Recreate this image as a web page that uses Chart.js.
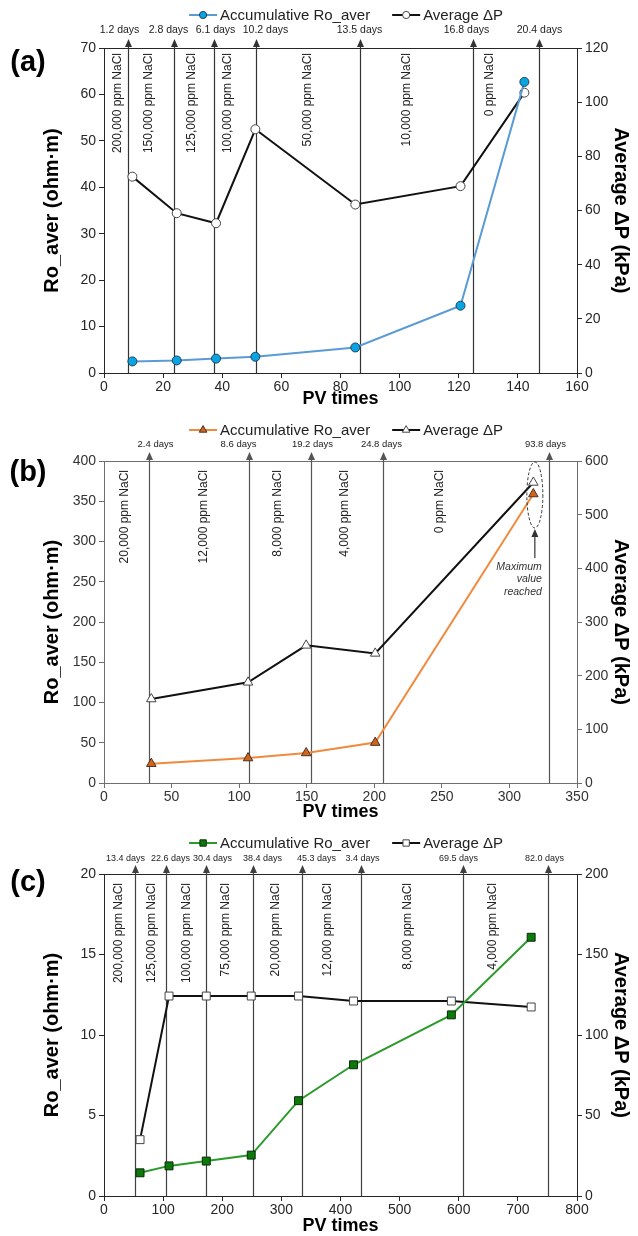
<!DOCTYPE html>
<html>
<head>
<meta charset="utf-8">
<script src="https://cdn.jsdelivr.net/npm/chart.js@4.4.0/dist/chart.umd.min.js"></script>
<style>
html, body { margin: 0; padding: 0; background: #fff; overflow: hidden; }
#wrap { position: relative; width: 638px; height: 1236px; }
canvas { position: absolute; left: 0; }
</style>
</head>
<body>
<div id="wrap">
  <canvas id="chartA" width="638" height="412" style="top:0px"></canvas>
  <canvas id="chartB" width="638" height="414" style="top:410px"></canvas>
  <canvas id="chartC" width="638" height="420" style="top:820px"></canvas>
</div>
<script>
// ---- panel (a) ----
const pvA = [9.6, 24.6, 37.9, 51.2, 85.0, 120.6, 142.2];
const roA = [2.5, 2.7, 3.1, 3.5, 5.5, 14.5, 62.7];
const dpA = [72.5, 59.0, 55.3, 90.0, 62.2, 69.0, 103.5];
const stepsA = [8, 23.8, 37.2, 51.5, 86.6, 124.8, 147.3];
const daysA = ['1.2 days', '2.8 days', '6.1 days', '10.2 days', '13.5 days', '16.8 days', '20.4 days'];
const naclA = ['200,000 ppm NaCl', '150,000 ppm NaCl', '125,000 ppm NaCl', '100,000 ppm NaCl', '50,000 ppm NaCl', '10,000 ppm NaCl', '0 ppm NaCl'];
const naclAtA = [4.6, 15, 29.5, 41.8, 69, 102.5, 130.5];

// ---- panel (b) ----
const pvB = [35.0, 106.6, 149.6, 200.7, 317.7];
const roB = [24.0, 31.0, 37.3, 50.2, 359.0];
const dpB = [156.5, 187.6, 256.5, 241.5, 560.0];
const stepsB = [33, 107.5, 153, 206.5, 329];
const daysB = ['2.4 days', '8.6 days', '19.2 days', '24.8 days', '93.8 days'];
const naclB = ['20,000 ppm NaCl', '12,000 ppm NaCl', '8,000 ppm NaCl', '4,000 ppm NaCl', '0 ppm NaCl'];
const naclAtB = [15.6, 74, 128.6, 178.2, 248.2];

// ---- panel (c) ----
const pvC = [61, 110, 173, 249, 329, 422, 587.5, 722.5];
const roC = [1.44, 1.87, 2.17, 2.54, 5.92, 8.15, 11.25, 16.07];
const dpC = [35.0, 124.2, 124.2, 124.2, 124.2, 121.1, 121.1, 117.4];
const stepsC = [52.6, 105.5, 173, 252.5, 335, 434, 608, 751];
const daysC = ['13.4 days', '22.6 days', '30.4 days', '38.4 days', '45.3 days', '3.4 days', '69.5 days', '82.0 days'];
const naclC = ['200,000 ppm NaCl', '125,000 ppm NaCl', '100,000 ppm NaCl', '75,000 ppm NaCl', '20,000 ppm NaCl', '12,000 ppm NaCl', '8,000 ppm NaCl', '4,000 ppm NaCl'];
const naclAtC = [24, 81, 140, 205, 290, 378, 513, 657];

const SANS = '"Liberation Sans", Arial, sans-serif';

function marker(ctx, style, x, y, r, fill, stroke) {
  ctx.beginPath();
  if (style === 'circle') {
    ctx.arc(x, y, r, 0, Math.PI * 2);
  } else if (style === 'triangle') {
    ctx.moveTo(x, y - r);
    ctx.lineTo(x + r * 0.866, y + r * 0.5);
    ctx.lineTo(x - r * 0.866, y + r * 0.5);
    ctx.closePath();
  } else {
    const s = r * Math.SQRT1_2;
    ctx.rect(x - s, y - s, 2 * s, 2 * s);
  }
  ctx.fillStyle = fill;
  ctx.fill();
  ctx.lineWidth = 1;
  ctx.strokeStyle = stroke;
  ctx.stroke();
}

function upArrow(ctx, px, tip) {
  ctx.beginPath();
  ctx.moveTo(px, tip);
  ctx.lineTo(px - 3.5, tip + 8);
  ctx.lineTo(px + 3.5, tip + 8);
  ctx.closePath();
  ctx.fill();
}

const decor = {
  id: 'decor',
  beforeDatasetsDraw(chart, args, o) {
    const { ctx, chartArea: a } = chart;
    const x = chart.scales.x;
    ctx.save();
    // top border of the plot
    ctx.strokeStyle = o.axisColor;
    ctx.lineWidth = 1;
    ctx.beginPath();
    ctx.moveTo(a.left, a.top + 0.5);
    ctx.lineTo(a.right, a.top + 0.5);
    ctx.stroke();

    // salinity step lines with arrows + day labels
    o.steps.forEach((v, i) => {
      const px = Math.round(x.getPixelForValue(v)) + 0.5;
      const tip = a.top - 9;
      ctx.strokeStyle = o.lineColor;
      ctx.fillStyle = o.lineColor;
      ctx.lineWidth = 1.2;
      ctx.beginPath();
      ctx.moveTo(px, a.bottom);
      ctx.lineTo(px, tip + 6);
      ctx.stroke();
      upArrow(ctx, px, tip);
      ctx.fillStyle = '#222';
      ctx.font = o.daysFont;
      ctx.textAlign = 'center';
      ctx.textBaseline = 'middle';
      ctx.fillText(o.days[i], px + o.dayShift[i], o.daysY);
    });

    // NaCl concentration labels (vertical)
    ctx.fillStyle = '#222';
    ctx.font = o.naclFont;
    o.nacl.forEach((t, i) => {
      const px = x.getPixelForValue(o.naclAt[i]);
      ctx.save();
      ctx.translate(px, a.top + o.naclGap);
      ctx.rotate(-Math.PI / 2);
      ctx.textAlign = 'right';
      ctx.textBaseline = 'middle';
      ctx.fillText(t, 0, 0);
      ctx.restore();
    });
    ctx.restore();
  },
  afterDraw(chart, args, o) {
    const { ctx } = chart;
    ctx.save();
    // legend
    ctx.font = o.legendFont;
    const items = chart.data.datasets.map(ds => ({
      text: ds.label, line: ds.borderColor, shape: ds.pointStyle,
      fill: ds.pointBackgroundColor, edge: ds.pointBorderColor, r: ds.pointRadius * 0.8
    }));
    const seg = 28, gap = 3, between = 22;
    let total = 0;
    items.forEach(it => { it.w = seg + gap + ctx.measureText(it.text).width; total += it.w; });
    total += between * (items.length - 1);
    let lx = o.legendX - total / 2;
    items.forEach(it => {
      ctx.strokeStyle = it.line;
      ctx.lineWidth = 2;
      ctx.beginPath();
      ctx.moveTo(lx, o.legendY);
      ctx.lineTo(lx + seg, o.legendY);
      ctx.stroke();
      marker(ctx, it.shape, lx + seg / 2, o.legendY, it.r, it.fill, it.edge);
      ctx.fillStyle = '#222';
      ctx.textAlign = 'left';
      ctx.textBaseline = 'middle';
      ctx.fillText(it.text, lx + seg + gap, o.legendY + 1);
      lx += it.w + between;
    });

    // panel letter
    ctx.font = 'bold 29px ' + SANS;
    ctx.fillStyle = '#000';
    ctx.textAlign = 'center';
    ctx.textBaseline = 'middle';
    ctx.fillText(o.letter, 28, 63);

    // "maximum value reached" note
    if (o.maxNote) {
      const meta = chart.getDatasetMeta(0);
      const p = meta.data[meta.data.length - 1];
      const cx = p.x + 1.5, cy = p.y + 1;
      ctx.strokeStyle = '#333';
      ctx.fillStyle = '#333';
      ctx.lineWidth = 1;
      ctx.setLineDash([3, 2]);
      ctx.beginPath();
      ctx.ellipse(cx, cy, 8, 33, 0, 0, Math.PI * 2);
      ctx.stroke();
      ctx.setLineDash([]);
      ctx.lineWidth = 1.2;
      ctx.beginPath();
      ctx.moveTo(cx, cy + 40);
      ctx.lineTo(cx, cy + 63);
      ctx.stroke();
      upArrow(ctx, cx, cy + 34);
      ctx.font = 'italic 10.5px ' + SANS;
      ctx.textAlign = 'right';
      ctx.textBaseline = 'middle';
      ['Maximum', 'value', 'reached'].forEach((t, i) => ctx.fillText(t, cx + 7, cy + 72 + i * 12.5));
    }
    ctx.restore();
  }
};

function makeChart(id, c) {
  const tickFont = { family: SANS, size: 14 };
  const titleFont = { family: SANS, size: 20, weight: 'bold' };
  const axis = (min, max, step, pos, title, pad, width) => ({
    type: 'linear', position: pos, min: min, max: max,
    ticks: { stepSize: step, font: tickFont, color: c.tickColor, padding: 3 },
    grid: { drawOnChartArea: false, tickLength: 5, color: c.axisColor },
    border: { color: c.axisColor, width: 1 },
    title: { display: true, text: title, font: titleFont, color: '#000', padding: { top: pad, bottom: 0 } },
    afterFit(s) { s.width = width; }
  });
  return new Chart(document.getElementById(id), {
    type: 'line',
    data: {
      datasets: [
        {
          label: 'Accumulative Ro_aver',
          data: c.pv.map((v, i) => ({ x: v, y: c.ro[i] })),
          yAxisID: 'y',
          borderColor: c.roLine, borderWidth: 2,
          pointStyle: c.shape, pointRadius: c.r,
          pointBackgroundColor: c.roFill, pointBorderColor: c.roEdge, pointBorderWidth: 1
        },
        {
          label: 'Average ΔP',
          data: c.pv.map((v, i) => ({ x: v, y: c.dp[i] })),
          yAxisID: 'y1',
          borderColor: '#111', borderWidth: 2,
          pointStyle: c.shape, pointRadius: c.r,
          pointBackgroundColor: '#fff', pointBorderColor: '#444', pointBorderWidth: 1
        }
      ]
    },
    options: {
      responsive: false,
      animation: false,
      devicePixelRatio: 1,
      layout: { padding: { top: c.top, left: 0, right: 0, bottom: 0 } },
      plugins: {
        legend: { display: false },
        tooltip: { enabled: false },
        decor: {
          steps: c.steps, days: c.days, dayShift: c.dayShift, nacl: c.nacl, naclAt: c.naclAt,
          axisColor: c.axisColor, lineColor: c.lineColor,
          daysY: c.daysY, daysFont: c.daysFont, naclGap: c.naclGap, naclFont: '12px ' + SANS,
          legendX: 346, legendY: c.legendY, legendFont: '15px ' + SANS,
          letter: c.letter, maxNote: !!c.maxNote
        }
      },
      scales: {
        x: {
          type: 'linear', min: 0, max: c.xMax,
          ticks: { stepSize: c.xStep, font: tickFont, color: c.tickColor, padding: 1, maxRotation: 0 },
          grid: { drawOnChartArea: false, tickLength: 5, color: c.axisColor },
          border: { color: c.axisColor, width: 1 },
          title: { display: true, text: 'PV times', font: { family: SANS, size: 18, weight: 'bold' }, color: '#000', padding: { top: 0, bottom: c.pvPad } },
          afterFit(s) { s.height = c.H - c.bottom; }
        },
        y: axis(0, c.yMax, c.yStep, 'left', 'Ro_aver (ohm·m)', 40, 104),
        y1: axis(0, c.y1Max, c.y1Step, 'right', 'Average ΔP (kPa)', 5, 61)
      }
    },
    plugins: [decor]
  });
}

makeChart('chartA', {
  pv: pvA, ro: roA, dp: dpA, steps: stepsA, days: daysA, nacl: naclA, naclAt: naclAtA,
  dayShift: [-9, -6, 1, 9, -1, -7, 0],
  H: 412, top: 48, bottom: 373, pvPad: 2,
  xMax: 160, xStep: 20, yMax: 70, yStep: 10, y1Max: 120, y1Step: 20,
  shape: 'circle', r: 4.5, roLine: '#5B9BD5', roFill: '#0AA5E0', roEdge: '#1F3F60',
  axisColor: '#262626', tickColor: '#262626', lineColor: '#333',
  daysY: 30, daysFont: '10.5px ' + SANS, naclGap: 5, legendY: 15, letter: '(a)'
});

makeChart('chartB', {
  pv: pvB, ro: roB, dp: dpB, steps: stepsB, days: daysB, nacl: naclB, naclAt: naclAtB,
  dayShift: [6, -11, 1, -2, -4],
  H: 414, top: 51, bottom: 373, pvPad: 1,
  xMax: 350, xStep: 50, yMax: 400, yStep: 50, y1Max: 600, y1Step: 100,
  shape: 'triangle', r: 5.5, roLine: '#F08A3E', roFill: '#D0661E', roEdge: '#4a3020',
  axisColor: '#6e6e6e', tickColor: '#333', lineColor: '#555',
  daysY: 34, daysFont: '9.5px ' + SANS, naclGap: 9, legendY: 20, letter: '(b)', maxNote: true
});

makeChart('chartC', {
  pv: pvC, ro: roC, dp: dpC, steps: stepsC, days: daysC, nacl: naclC, naclAt: naclAtC,
  dayShift: [-10, 4, 6, 9, 14, 1, -5, -4],
  H: 420, top: 54, bottom: 376, pvPad: 3,
  xMax: 800, xStep: 100, yMax: 20, yStep: 5, y1Max: 200, y1Step: 50,
  shape: 'rect', r: 5.6, roLine: '#2A9A2A', roFill: '#0B7A0B', roEdge: '#0a2a0a',
  axisColor: '#262626', tickColor: '#262626', lineColor: '#404040',
  daysY: 39, daysFont: '9px ' + SANS, naclGap: 9, legendY: 23, letter: '(c)'
});
</script>
</body>
</html>
